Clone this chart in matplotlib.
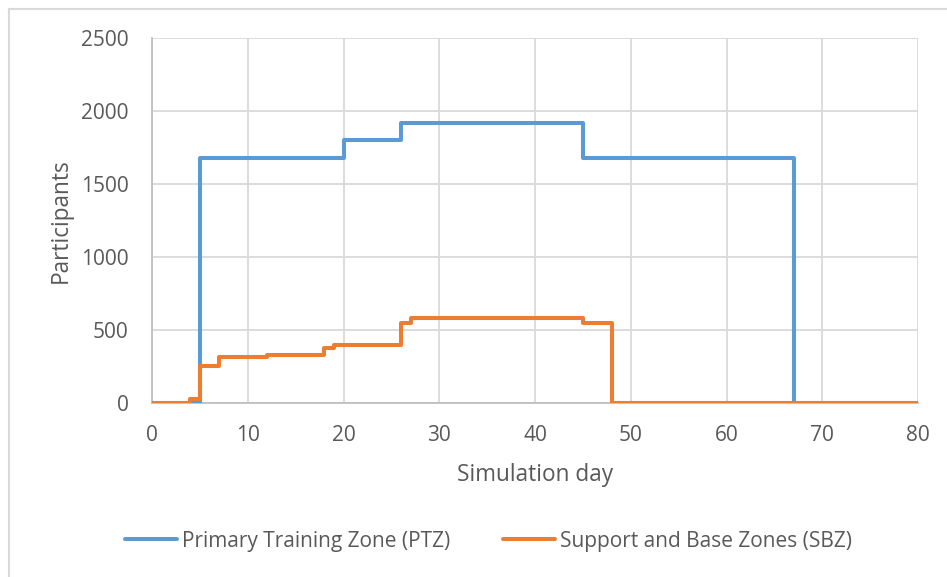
import matplotlib
matplotlib.use("Agg")
import matplotlib.pyplot as plt
from matplotlib.lines import Line2D

# Participants per zone over the simulation (value holds from each day until the next change)
ptz_days = [0, 5, 20, 26, 45, 67, 80]
ptz_vals = [0, 1680, 1800, 1920, 1680, 0, 0]

sbz_days = [0, 4, 5, 7, 12, 18, 19, 26, 27, 45, 48, 80]
sbz_vals = [0, 25, 255, 315, 330, 375, 400, 545, 580, 545, 0, 0]

x_ticks = [0, 10, 20, 30, 40, 50, 60, 70, 80]
y_ticks = [0, 500, 1000, 1500, 2000, 2500]

series_names = ["Primary Training Zone (PTZ)", "Support and Base Zones (SBZ)"]

TEXT = "#595959"
BLUE = "#5b9bd5"
ORANGE = "#ed7d31"

plt.rcParams["font.family"] = ["Open Sans", "DejaVu Sans"]

W, H = 947, 577
fig = plt.figure(figsize=(W / 100, H / 100), dpi=100)
ax = fig.add_axes([152 / W, 1 - 403 / H, (918 - 152) / W, (403 - 38) / H])

ax.plot(ptz_days, ptz_vals, drawstyle="steps-post", color=BLUE, lw=2.9,
        solid_joinstyle="round", solid_capstyle="round", label=series_names[0], zorder=3)
ax.plot(sbz_days, sbz_vals, drawstyle="steps-post", color=ORANGE, lw=2.9,
        solid_joinstyle="round", solid_capstyle="round", label=series_names[1], zorder=4)

ax.set_xlim(0, 80)
ax.set_ylim(0, 2500)
ax.set_xticks(x_ticks)
ax.set_yticks(y_ticks)
ax.tick_params(length=0, labelsize=15, colors=TEXT)
ax.tick_params(axis="x", pad=16)
ax.tick_params(axis="y", pad=17)

ax.grid(True, color="#d9d9d9", lw=1.3, zorder=0)
ax.set_axisbelow(True)
for side in ("top", "right"):
    ax.spines[side].set_visible(False)
for side in ("left", "bottom"):
    ax.spines[side].set_color("#bfbfbf")
    ax.spines[side].set_linewidth(1.3)

ax.set_xlabel("Simulation day", fontsize=16.3, color=TEXT, labelpad=12)
ax.set_ylabel("Participants", fontsize=16.3, color=TEXT, labelpad=6)

leg = fig.legend(loc="center", bbox_to_anchor=(0.5 + 15 / W, 1 - 541 / H), ncol=2,
                 frameon=False, fontsize=15, handlelength=2.5,
                 handletextpad=0.25, columnspacing=2.5)
for t in leg.get_texts():
    t.set_color(TEXT)

# outer chart frame
fig.add_artist(Line2D([9 / W, 1], [1 - 9 / H, 1 - 9 / H], transform=fig.transFigure,
                      color="#d9d9d9", lw=1.5))
fig.add_artist(Line2D([9 / W, 9 / W], [0, 1 - 9 / H], transform=fig.transFigure,
                      color="#d9d9d9", lw=1.5))

fig.savefig("out.png", dpi=100)
